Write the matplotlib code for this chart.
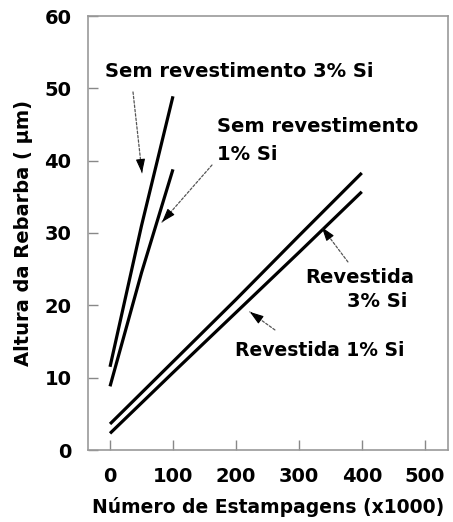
import matplotlib
matplotlib.use("Agg")
import matplotlib.pyplot as plt

# Data (x in thousands of stampings, y in µm)
x_sem3 = [0, 50, 100]
y_sem3 = [11.5, 31.0, 48.9]

x_sem1 = [0, 50, 100]
y_sem1 = [8.8, 24.5, 38.8]

x_rev3 = [0, 100, 200, 300, 400]
y_rev3 = [3.6, 12.2, 20.8, 29.6, 38.3]

x_rev1 = [0, 100, 200, 300, 400]
y_rev1 = [2.3, 10.7, 19.0, 27.3, 35.7]

xticks = [0, 100, 200, 300, 400, 500]
yticks = [0, 10, 20, 30, 40, 50, 60]

plt.rcParams['font.family'] = ['DejaVu Sans']
plt.rcParams['font.weight'] = 'bold'
FS = 14

fig = plt.figure(figsize=(4.53, 5.22), dpi=100)
ax = fig.add_axes([88/453, 1-450/522, (448-88)/453, (450-16)/522])

lw = 2.3
for xs, ys in [(x_sem3, y_sem3), (x_sem1, y_sem1), (x_rev3, y_rev3), (x_rev1, y_rev1)]:
    ax.plot(xs, ys, color='black', lw=lw, solid_capstyle='butt')

ax.set_xlim(-35, 537)
ax.set_ylim(0, 60)
ax.set_xticks(xticks)
ax.set_yticks(yticks)
ax.tick_params(direction='in', length=7, width=1, color='#888888',
               labelsize=FS, pad=12)
for lab in ax.get_xticklabels() + ax.get_yticklabels():
    lab.set_fontweight('bold')
for s in ax.spines.values():
    s.set_color('#999999')
    s.set_linewidth(1.2)

ax.set_xlabel('Número de Estampagens (x1000)', fontsize=13.5, fontweight='bold', labelpad=8)
ax.set_ylabel('Altura da Rebarba ( µm)', fontsize=FS, fontweight='bold', labelpad=8)

shaft = dict(arrowstyle='-', color='#555555', lw=0.9, linestyle=(0, (2, 1.5)),
             shrinkA=0, shrinkB=0)
head = dict(arrowstyle='-|>,head_length=0.6,head_width=0.2', color='black', lw=0.8,
            mutation_scale=14, shrinkA=0, shrinkB=0)


def pointer(tail, tip):
    ax.annotate('', xy=tip, xytext=tail, arrowprops=shaft)
    # short solid segment right before the tip carries the black head
    fx = tip[0] + (tail[0] - tip[0]) * 0.08
    fy = tip[1] + (tail[1] - tip[1]) * 0.08
    ax.annotate('', xy=tip, xytext=(fx, fy), arrowprops=head)


# Annotation 1
ax.text(-8, 52.3, 'Sem revestimento 3% Si', fontsize=FS, fontweight='bold',
        ha='left', va='center')
pointer((36.5, 49.5), (50.8, 38.3))

# Annotation 2
ax.text(170, 44.7, 'Sem revestimento', fontsize=FS, fontweight='bold',
        ha='left', va='center')
ax.text(170, 40.8, '1% Si', fontsize=FS, fontweight='bold', ha='left', va='center')
pointer((162, 39.4), (82.5, 31.5))

# Annotation 3
ax.text(484, 23.9, 'Revestida', fontsize=FS, fontweight='bold', ha='right', va='center')
ax.text(473, 20.5, '3% Si', fontsize=FS, fontweight='bold', ha='right', va='center')
pointer((378, 26.0), (336.5, 30.8))

# Annotation 4
ax.text(198, 13.8, 'Revestida 1% Si', fontsize=13.5, fontweight='bold', ha='left', va='center')
pointer((262, 16.6), (222, 19.1))

fig.savefig('out.png', dpi=100)
